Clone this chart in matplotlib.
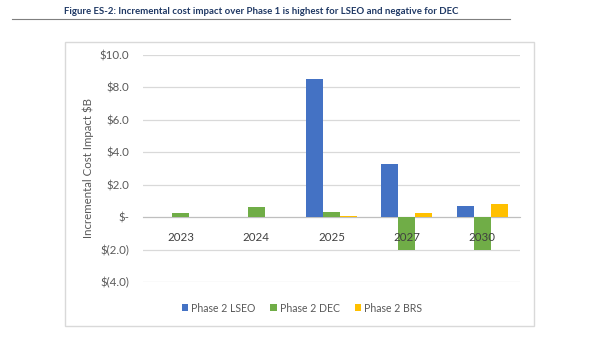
import numpy as np
import matplotlib.pyplot as plt
from matplotlib.patches import Rectangle
from matplotlib.lines import Line2D
from matplotlib.transforms import offset_copy

plt.rcParams['font.family'] = ['Lato', 'DejaVu Sans']

# data ($B)
years = ["2023", "2024", "2025", "2027", "2030"]
lseo = [0.0, 0.0, 8.5, 3.3, 0.68]
dec = [0.27, 0.65, 0.33, -2.0, -2.0]
brs = [0.0, 0.0, 0.08, 0.25, 0.82]
series = ["Phase 2 LSEO", "Phase 2 DEC", "Phase 2 BRS"]
colors = ["#4472C4", "#70AD47", "#FFC000"]
yticks = [-4, -2, 0, 2, 4, 6, 8, 10]
ytick_labels = ["$(4.0)", "$(2.0)", "$-", "$2.0", "$4.0", "$6.0", "$8.0", "$10.0"]

W, H = 602, 337
fig = plt.figure(figsize=(W / 100, H / 100), dpi=100)

# title and rule underneath
fig.text(261 / W, 1 - 11 / H, "Figure ES-2: Incremental cost impact over Phase 1 is highest for LSEO and negative for DEC",
         ha="center", va="center", fontsize=6.9, fontweight="bold", color="#1F3864")
fig.add_artist(Line2D([12 / W, 510 / W], [1 - 19 / H, 1 - 19 / H], color="#7f7f7f", lw=0.8))

# chart frame
fig.add_artist(Rectangle((65 / W, 1 - 326 / H), (534 - 65) / W, (326 - 42) / H,
                         fill=False, edgecolor="#d9d9d9", lw=1.0))

ax = fig.add_axes([143 / W, 1 - 282 / H, (520 - 143) / W, (282 - 55) / H])
x = np.arange(len(years))
w = 0.225
for i, (vals, name, c) in enumerate(zip([lseo, dec, brs], series, colors)):
    ax.bar(x + (i - 1) * w, vals, w, color=c, label=name, zorder=3)

ax.set_xlim(-0.5, len(years) - 0.5)
ax.set_ylim(-4, 10)
ax.set_yticks(yticks)
ax.set_yticklabels(ytick_labels)
ax.set_xticks([])
ax.yaxis.grid(True, color="#d9d9d9", lw=0.9, zorder=0)
for s in ["top", "right", "left"]:
    ax.spines[s].set_visible(False)
ax.spines["bottom"].set_position(("data", 0))
ax.spines["bottom"].set_color("#bfbfbf")
ax.spines["bottom"].set_zorder(2)
ax.tick_params(axis="y", length=0, labelsize=8.3, colors="#595959", pad=10)
ax.set_ylabel("Incremental Cost Impact $B", fontsize=8.3, color="#595959", labelpad=4)

# category labels sit just under the zero line, drawn over the bars
lbl_tr = offset_copy(ax.transData, fig=fig, x=0, y=-15, units="points")
for xi, yr in zip(x, years):
    ax.text(xi, 0, yr, transform=lbl_tr, ha="center", va="center", fontsize=8.3,
            color="#404040", zorder=5)

fig.legend(loc="center", bbox_to_anchor=(302 / W, 1 - 308 / H), ncol=3, frameon=False,
           fontsize=7.6, labelcolor="#595959", handlelength=0.6, handleheight=0.6,
           handletextpad=0.3, columnspacing=1.4)

fig.savefig("out.png", dpi=100)
